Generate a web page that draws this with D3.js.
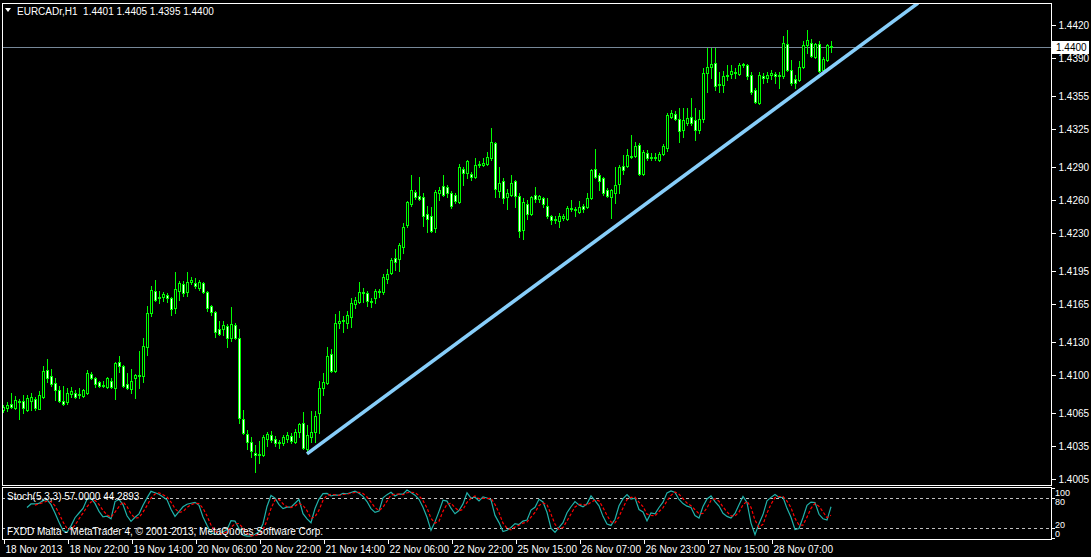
<!DOCTYPE html>
<html><head><meta charset="utf-8">
<script src="https://cdnjs.cloudflare.com/ajax/libs/d3/7.8.5/d3.min.js"></script>
<style>
html,body{margin:0;padding:0;background:#000;}
svg{display:block;}
text{font-family:"Liberation Sans",Arial,sans-serif;font-size:10px;fill:#fff;}
</style></head>
<body>
<svg id="chart" width="1091" height="557"></svg>
<script>
// ---- DATA (EURCADr, H1) ----
const symbolTitle = "EURCADr,H1\u00A0\u00A01.4401 1.4405 1.4395 1.4400";
const opens = [1.4068,1.4070,1.4074,1.4070,1.4076,1.4076,1.4068,1.4076,1.4078,1.4069,
1.4080,1.4105,1.4099,1.4093,1.4086,1.4076,1.4075,1.4083,1.4084,1.4082,
1.4081,1.4084,1.4101,1.4097,1.4094,1.4090,1.4089,1.4095,1.4088,1.4112,
1.4108,1.4092,1.4087,1.4097,1.4100,1.4099,1.4126,1.4157,1.4177,1.4170,
1.4171,1.4173,1.4170,1.4161,1.4177,1.4183,1.4176,1.4185,1.4184,1.4180,
1.4184,1.4176,1.4163,1.4158,1.4142,1.4142,1.4145,1.4134,1.4146,1.4134,
1.4060,1.4046,1.4039,1.4029,1.4027,1.4027,1.4042,1.4045,1.4042,1.4039,
1.4038,1.4042,1.4044,1.4039,1.4048,1.4056,1.4032,1.4043,1.4048,1.4065,
1.4088,1.4093,1.4119,1.4104,1.4148,1.4149,1.4148,1.4153,1.4165,1.4167,
1.4175,1.4175,1.4168,1.4170,1.4177,1.4176,1.4188,1.4193,1.4207,1.4206,
1.4217,1.4237,1.4256,1.4267,1.4264,1.4263,1.4247,1.4245,1.4234,1.4266,
1.4273,1.4272,1.4266,1.4265,1.4258,1.4288,1.4285,1.4284,1.4281,1.4292,
1.4292,1.4293,1.4298,1.4312,1.4268,1.4277,1.4263,1.4265,1.4277,1.4264,
1.4233,1.4256,1.4247,1.4265,1.4261,1.4262,1.4255,1.4245,1.4242,1.4241,
1.4244,1.4243,1.4253,1.4252,1.4249,1.4255,1.4254,1.4262,1.4288,1.4283,
1.4280,1.4269,1.4263,1.4266,1.4275,1.4291,1.4291,1.4300,1.4300,1.4310,
1.4284,1.4303,1.4299,1.4298,1.4297,1.4302,1.4308,1.4336,1.4339,1.4334,
1.4324,1.4330,1.4336,1.4333,1.4324,1.4334,1.4376,1.4382,1.4385,1.4365,
1.4365,1.4373,1.4375,1.4377,1.4375,1.4384,1.4383,1.4374,1.4361,1.4349,
1.4373,1.4372,1.4374,1.4375,1.4374,1.4373,1.4403,1.4379,1.4371,1.4370,
1.4382,1.4402,1.4404,1.4391,1.4403,1.4379,1.4388,1.4401];
const highs = [1.4073,1.4075,1.4084,1.4081,1.4078,1.4082,1.4082,1.4084,1.4080,1.4085,
1.4108,1.4115,1.4106,1.4097,1.4090,1.4090,1.4088,1.4089,1.4086,1.4088,
1.4087,1.4105,1.4103,1.4098,1.4095,1.4095,1.4098,1.4097,1.4112,1.4117,
1.4109,1.4102,1.4106,1.4101,1.4122,1.4134,1.4163,1.4181,1.4187,1.4177,
1.4176,1.4175,1.4171,1.4194,1.4186,1.4186,1.4194,1.4190,1.4189,1.4187,
1.4185,1.4177,1.4164,1.4159,1.4149,1.4149,1.4147,1.4162,1.4148,1.4142,
1.4068,1.4050,1.4043,1.4036,1.4040,1.4045,1.4048,1.4049,1.4044,1.4041,
1.4045,1.4048,1.4047,1.4051,1.4056,1.4066,1.4054,1.4067,1.4067,1.4095,
1.4102,1.4126,1.4124,1.4156,1.4159,1.4154,1.4159,1.4170,1.4171,1.4185,
1.4180,1.4177,1.4170,1.4179,1.4179,1.4192,1.4197,1.4207,1.4215,1.4221,
1.4239,1.4259,1.4283,1.4269,1.4281,1.4266,1.4255,1.4254,1.4269,1.4272,
1.4283,1.4274,1.4268,1.4266,1.4293,1.4290,1.4297,1.4286,1.4298,1.4296,
1.4298,1.4304,1.4326,1.4313,1.4290,1.4280,1.4270,1.4283,1.4278,1.4266,
1.4262,1.4260,1.4264,1.4272,1.4265,1.4263,1.4262,1.4246,1.4245,1.4248,
1.4247,1.4255,1.4260,1.4254,1.4259,1.4256,1.4266,1.4288,1.4307,1.4285,
1.4281,1.4271,1.4270,1.4290,1.4292,1.4301,1.4307,1.4319,1.4313,1.4312,
1.4306,1.4306,1.4303,1.4303,1.4304,1.4311,1.4340,1.4342,1.4341,1.4344,
1.4344,1.4344,1.4353,1.4344,1.4342,1.4381,1.4399,1.4399,1.4399,1.4377,
1.4378,1.4383,1.4383,1.4381,1.4385,1.4385,1.4384,1.4377,1.4362,1.4377,
1.4376,1.4377,1.4379,1.4377,1.4377,1.4410,1.4415,1.4388,1.4374,1.4387,
1.4405,1.4415,1.4407,1.4404,1.4405,1.4391,1.4403,1.4405];
const lows = [1.4066,1.4067,1.4070,1.4069,1.4060,1.4065,1.4067,1.4068,1.4068,1.4069,
1.4079,1.4094,1.4090,1.4077,1.4075,1.4073,1.4074,1.4080,1.4079,1.4079,
1.4080,1.4083,1.4096,1.4089,1.4089,1.4089,1.4088,1.4088,1.4078,1.4103,
1.4089,1.4087,1.4084,1.4079,1.4088,1.4094,1.4118,1.4154,1.4168,1.4166,
1.4168,1.4167,1.4155,1.4157,1.4169,1.4172,1.4172,1.4183,1.4180,1.4178,
1.4175,1.4159,1.4155,1.4135,1.4137,1.4137,1.4126,1.4131,1.4133,1.4056,
1.4046,1.4032,1.4025,1.4011,1.4020,1.4026,1.4035,1.4039,1.4035,1.4033,
1.4036,1.4039,1.4038,1.4038,1.4043,1.4032,1.4031,1.4039,1.4039,1.4047,
1.4082,1.4092,1.4103,1.4103,1.4143,1.4139,1.4143,1.4144,1.4161,1.4166,
1.4167,1.4163,1.4162,1.4166,1.4171,1.4174,1.4184,1.4192,1.4196,1.4195,
1.4212,1.4235,1.4255,1.4261,1.4260,1.4236,1.4231,1.4231,1.4231,1.4260,
1.4264,1.4263,1.4253,1.4257,1.4257,1.4274,1.4280,1.4278,1.4280,1.4290,
1.4291,1.4292,1.4297,1.4263,1.4263,1.4257,1.4252,1.4264,1.4254,1.4226,
1.4224,1.4243,1.4246,1.4258,1.4258,1.4254,1.4244,1.4238,1.4239,1.4235,
1.4242,1.4242,1.4250,1.4245,1.4248,1.4249,1.4253,1.4261,1.4280,1.4269,
1.4265,1.4263,1.4244,1.4257,1.4266,1.4284,1.4290,1.4298,1.4299,1.4283,
1.4283,1.4297,1.4297,1.4297,1.4296,1.4301,1.4305,1.4335,1.4333,1.4313,
1.4318,1.4329,1.4329,1.4315,1.4321,1.4331,1.4359,1.4372,1.4361,1.4359,
1.4359,1.4370,1.4372,1.4372,1.4374,1.4382,1.4371,1.4357,1.4349,1.4348,
1.4367,1.4368,1.4371,1.4367,1.4362,1.4372,1.4378,1.4365,1.4362,1.4369,
1.4381,1.4394,1.4391,1.4390,1.4377,1.4378,1.4387,1.4395];
const closes = [1.4071,1.4073,1.4071,1.4077,1.4075,1.4070,1.4079,1.4080,1.4070,1.4082,
1.4104,1.4097,1.4092,1.4086,1.4076,1.4074,1.4084,1.4085,1.4080,1.4083,
1.4086,1.4102,1.4097,1.4092,1.4090,1.4091,1.4097,1.4089,1.4111,1.4108,
1.4090,1.4088,1.4095,1.4100,1.4099,1.4127,1.4157,1.4178,1.4169,1.4171,
1.4174,1.4170,1.4160,1.4179,1.4184,1.4175,1.4185,1.4187,1.4181,1.4185,
1.4176,1.4161,1.4158,1.4139,1.4138,1.4146,1.4134,1.4147,1.4134,1.4061,
1.4047,1.4039,1.4031,1.4027,1.4028,1.4043,1.4046,1.4041,1.4038,1.4038,
1.4043,1.4045,1.4040,1.4048,1.4055,1.4033,1.4045,1.4048,1.4063,1.4088,
1.4094,1.4117,1.4104,1.4148,1.4149,1.4150,1.4155,1.4166,1.4169,1.4176,
1.4176,1.4168,1.4167,1.4177,1.4176,1.4190,1.4192,1.4205,1.4203,1.4219,
1.4235,1.4258,1.4269,1.4263,1.4261,1.4245,1.4243,1.4232,1.4267,1.4269,
1.4265,1.4266,1.4255,1.4259,1.4290,1.4285,1.4296,1.4281,1.4292,1.4293,
1.4294,1.4299,1.4313,1.4270,1.4276,1.4262,1.4266,1.4276,1.4264,1.4232,
1.4258,1.4247,1.4263,1.4261,1.4264,1.4256,1.4245,1.4242,1.4243,1.4245,
1.4245,1.4253,1.4252,1.4251,1.4254,1.4252,1.4262,1.4287,1.4281,1.4277,
1.4266,1.4264,1.4269,1.4274,1.4290,1.4287,1.4301,1.4299,1.4309,1.4284,
1.4304,1.4298,1.4298,1.4299,1.4302,1.4309,1.4338,1.4340,1.4334,1.4323,
1.4333,1.4335,1.4330,1.4324,1.4334,1.4376,1.4382,1.4384,1.4364,1.4366,
1.4373,1.4374,1.4378,1.4376,1.4383,1.4383,1.4373,1.4359,1.4350,1.4374,
1.4372,1.4374,1.4376,1.4373,1.4373,1.4404,1.4379,1.4367,1.4367,1.4382,
1.4402,1.4406,1.4392,1.4403,1.4378,1.4389,1.4402,1.4400];

const priceTicks = [1.4420,1.4390,1.4355,1.4325,1.4290,1.4260,1.4230,1.4195,1.4165,1.4130,1.4100,1.4065,1.4035,1.4005];
const timeTickBars = [0,16,32,48,64,80,96,112,128,144,160,176,192];
const timeLabels = ["18 Nov 2013","18 Nov 22:00","19 Nov 14:00","20 Nov 06:00","20 Nov 22:00","21 Nov 14:00","22 Nov 06:00","22 Nov 22:00","25 Nov 15:00","26 Nov 07:00","26 Nov 23:00","27 Nov 15:00","28 Nov 07:00"];
const bidPrice = 1.4400;
const trendBars = [76, 228.75];
const trendPrices = [1.4028, 1.4440];
const stochLevels = [20, 80];
const stochAxisLabels = ["100","80","20","0"];
const stochTitle = "Stoch(5,3,3) 57.0000 44.2893";
const footer = "FXDD Malta - MetaTrader 4, \u00A9 2001-2013, MetaQuotes Software Corp.";

// ---- Stochastic(5,3,3) derived from the candles ----
function stochastic(kP, slow, dP) {
  const n = closes.length, K = new Array(n).fill(null), D = new Array(n).fill(null);
  const hh = [], ll = [];
  for (let i = 0; i < n; i++) {
    if (i < kP - 1) { hh.push(null); ll.push(null); continue; }
    hh.push(d3.max(highs.slice(i - kP + 1, i + 1)));
    ll.push(d3.min(lows.slice(i - kP + 1, i + 1)));
  }
  for (let i = kP - 1 + slow - 1; i < n; i++) {
    let num = 0, den = 0;
    for (let j = 0; j < slow; j++) { num += closes[i - j] - ll[i - j]; den += hh[i - j] - ll[i - j]; }
    K[i] = den === 0 ? 100 : 100 * num / den;
  }
  for (let i = kP - 1 + slow - 1 + dP - 1; i < n; i++) {
    D[i] = (K[i] + K[i - 1] + K[i - 2]) / 3;
  }
  return {K, D};
}

// ---- DRAW ----
const svg = d3.select("#chart");
svg.append("rect").attr("width",1091).attr("height",557).attr("fill","#000");

const left = 2, right = 1051, mainTop = 3, mainBottom = 485, stTop = 487, stBottom = 539;
const xBar = d3.scaleLinear().domain([0, opens.length - 1]).range([3, 831]);
const yPrice = d3.scaleLinear().domain([1.4005, 1.4420]).range([479, 25]);
const yStoch = d3.scaleLinear().domain([0, 100]).range([538, 488]);

svg.append("defs").append("clipPath").attr("id","mainClip")
  .append("rect").attr("x",left+1).attr("y",mainTop+1).attr("width",right-left-1).attr("height",mainBottom-mainTop-1);
svg.select("defs").append("clipPath").attr("id","stClip")
  .append("rect").attr("x",left+1).attr("y",stTop+1).attr("width",right-left-1).attr("height",stBottom-stTop-1);

// bid line
svg.append("line").attr("x1",left).attr("x2",right)
  .attr("y1",Math.round(yPrice(bidPrice))+0.5).attr("y2",Math.round(yPrice(bidPrice))+0.5)
  .attr("stroke","#778899").attr("stroke-width",1);

// candles
const cg = svg.append("g").attr("clip-path","url(#mainClip)").attr("shape-rendering","crispEdges");
const idx = d3.range(opens.length);
const R = v => Math.round(v);
cg.selectAll("rect.wick").data(idx).join("rect").attr("class","wick")
  .attr("x", i => R(xBar(i))).attr("width",1)
  .attr("y", i => R(yPrice(highs[i])))
  .attr("height", i => R(yPrice(lows[i])) - R(yPrice(highs[i])) + 1)
  .attr("fill","#00ff00");
cg.selectAll("rect.body").data(idx).join("rect").attr("class","body")
  .attr("x", i => R(xBar(i)) - 1).attr("width",3)
  .attr("y", i => R(yPrice(Math.max(opens[i],closes[i]))))
  .attr("height", i => R(yPrice(Math.min(opens[i],closes[i]))) - R(yPrice(Math.max(opens[i],closes[i]))) + 1)
  .attr("fill","#00ff00");
cg.selectAll("rect.inner").data(idx.filter(i => R(yPrice(Math.min(opens[i],closes[i]))) - R(yPrice(Math.max(opens[i],closes[i]))) >= 2))
  .join("rect").attr("class","inner")
  .attr("x", i => R(xBar(i))).attr("width",1)
  .attr("y", i => R(yPrice(Math.max(opens[i],closes[i]))) + 1)
  .attr("height", i => R(yPrice(Math.min(opens[i],closes[i]))) - R(yPrice(Math.max(opens[i],closes[i]))) - 1)
  .attr("fill", i => closes[i] >= opens[i] ? "#000" : "#fff");

// trend line
svg.append("g").attr("clip-path","url(#mainClip)")
  .append("line")
  .attr("x1", xBar(trendBars[0])).attr("y1", yPrice(trendPrices[0]))
  .attr("x2", xBar(trendBars[1])).attr("y2", yPrice(trendPrices[1]))
  .attr("stroke","#87cefa").attr("stroke-width",3.6).attr("stroke-linecap","butt");

// frames
const frame = svg.append("g").attr("fill","none").attr("stroke","#fff").attr("stroke-width",1).attr("shape-rendering","crispEdges");
frame.append("rect").attr("x",left+0.5).attr("y",mainTop+0.5).attr("width",right-left).attr("height",mainBottom-mainTop);
frame.append("rect").attr("x",left+0.5).attr("y",stTop+0.5).attr("width",right-left).attr("height",stBottom-stTop);

// title
svg.append("path").attr("d","M5,8 L11,8 L8,12 Z").attr("fill","#fff");
svg.append("text").attr("x",17).attr("y",15).text(symbolTitle);

// price axis
const pa = svg.append("g").attr("transform",`translate(${right+0.5},0)`)
  .call(d3.axisRight(yPrice).tickValues(priceTicks).tickSize(4).tickPadding(3).tickFormat(d3.format(".4f")));
pa.select(".domain").remove();
pa.selectAll("line").attr("stroke","#fff").attr("shape-rendering","crispEdges");
pa.selectAll("text").attr("fill","#fff").style("font-family","Liberation Sans, Arial, sans-serif").style("font-size","10px");

// bid label
const by = R(yPrice(bidPrice));
svg.append("rect").attr("x",1052).attr("y",by-6).attr("width",37).attr("height",13).attr("fill","#fff");
svg.append("text").attr("x",1056).attr("y",by+4).attr("fill","#000").style("fill","#000").text(d3.format(".4f")(bidPrice));

// stochastic panel
const st = stochastic(5,3,3);
const sg = svg.append("g").attr("clip-path","url(#stClip)");
sg.selectAll("line.lvl").data(stochLevels).join("line").attr("class","lvl")
  .attr("x1",left).attr("x2",right)
  .attr("y1",d => R(yStoch(d))+0.5).attr("y2",d => R(yStoch(d))+0.5)
  .attr("stroke","#c0c0c0").attr("stroke-dasharray","3,3").attr("shape-rendering","crispEdges");
const lineK = d3.line().defined(d => d != null).x((d,i) => xBar(i)).y(d => yStoch(d));
sg.append("path").attr("d", lineK(st.K)).attr("fill","none").attr("stroke","#20b2aa").attr("stroke-width",1.2);
sg.append("path").attr("d", lineK(st.D)).attr("fill","none").attr("stroke","#ff0000").attr("stroke-width",1.2).attr("stroke-dasharray","3,2");

svg.append("text").attr("x",7).attr("y",500).text(stochTitle);
svg.append("text").attr("x",7).attr("y",535).text(footer);

// stoch axis labels (kept apart so they do not overlap)
const stLabelY = [496, 505, 528, 537];
svg.selectAll("text.stl").data(stochAxisLabels).join("text").attr("class","stl")
  .attr("x",1055).attr("y",(d,i) => stLabelY[i]).style("font-size","9px").text(d => d);
svg.selectAll("line.stt").data([100,80,20,0]).join("line").attr("class","stt")
  .attr("x1",right).attr("x2",right+4)
  .attr("y1",d => R(yStoch(d))+0.5).attr("y2",d => R(yStoch(d))+0.5)
  .attr("stroke","#fff").attr("shape-rendering","crispEdges");

// time axis
const ta = svg.append("g").attr("transform",`translate(0,${stBottom+0.5})`)
  .call(d3.axisBottom(xBar).tickValues(timeTickBars).tickSize(4).tickFormat((d,i) => timeLabels[i]));
ta.select(".domain").remove();
ta.selectAll("line").attr("stroke","#fff").attr("shape-rendering","crispEdges")
  .attr("transform","translate(0.5,0)");
ta.selectAll("text").attr("fill","#fff").attr("text-anchor","start").attr("x",2).attr("y",6).attr("dy","0.71em")
  .style("font-family","Liberation Sans, Arial, sans-serif").style("font-size","10px");
</script>
</body></html>
